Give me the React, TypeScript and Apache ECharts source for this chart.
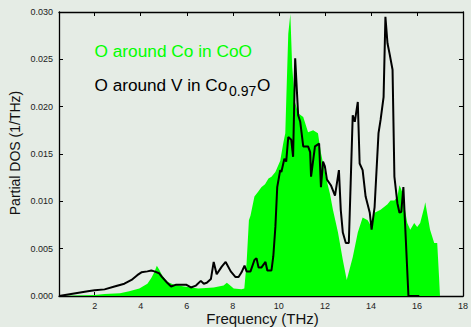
import React, { useEffect, useRef } from "react";
import * as echarts from "echarts";

// Green filled curve: O around Co in CoO
const freqCoO = [0.45, 2.0, 2.43, 3.1, 3.5, 3.94, 4.29, 4.46, 4.59, 4.70, 4.80, 4.93, 5.15, 5.45, 5.88, 6.5, 7.17, 7.6, 7.74, 7.85, 8.04, 8.38, 8.50, 8.60, 8.70, 8.77, 8.94, 9.1, 9.24, 9.4, 9.55, 9.68, 9.85, 10.06, 10.19, 10.28, 10.32, 10.41, 10.50, 10.58, 10.7, 10.84, 11.06, 11.27, 11.49, 11.70, 11.83, 12.05, 12.22, 12.35, 12.57, 12.78, 12.95, 13.21, 13.43, 13.64, 13.86, 14.0, 14.16, 14.42, 14.72, 14.85, 15.02, 15.15, 15.24, 15.28, 15.37, 15.50, 15.58, 15.71, 15.88, 16.01, 16.14, 16.32, 16.36, 16.44, 16.57, 16.75, 16.88, 16.96, 17.0];
const dosCoO = [0, 0.0001, 0.0002, 0.0003, 0.0005, 0.0008, 0.0013, 0.0019, 0.0025, 0.0032, 0.0028, 0.0022, 0.0015, 0.0012, 0.0010, 0.0008, 0.0009, 0.0011, 0.0014, 0.0012, 0.0008, 0.0007, 0.0008, 0.0035, 0.0080, 0.0085, 0.0105, 0.0110, 0.0115, 0.0118, 0.0124, 0.0126, 0.0131, 0.0143, 0.0161, 0.0172, 0.0205, 0.0277, 0.0298, 0.0242, 0.0205, 0.0193, 0.0189, 0.0173, 0.0175, 0.0172, 0.0151, 0.0125, 0.0108, 0.0091, 0.0067, 0.0038, 0.0017, 0.0041, 0.0067, 0.0083, 0.0080, 0.0074, 0.0088, 0.0091, 0.0097, 0.0101, 0.0101, 0.0105, 0.0117, 0.0115, 0.0109, 0.0088, 0.0077, 0.0070, 0.0077, 0.0073, 0.0077, 0.0094, 0.0099, 0.0088, 0.0070, 0.0056, 0.0056, 0.0020, 0];

// Black line: O around V in Co0.97O
const freqV = [0.45, 1.70, 2.0, 2.43, 2.86, 3.29, 3.60, 3.85, 4.03, 4.29, 4.46, 4.59, 4.80, 4.93, 5.15, 5.32, 5.54, 5.75, 5.97, 6.18, 6.40, 6.61, 6.74, 6.87, 7.05, 7.17, 7.30, 7.52, 7.69, 7.91, 8.12, 8.25, 8.38, 8.51, 8.60, 8.77, 8.94, 9.03, 9.12, 9.24, 9.42, 9.50, 9.68, 9.76, 9.85, 9.93, 10.06, 10.11, 10.24, 10.32, 10.41, 10.54, 10.62, 10.71, 10.84, 10.93, 11.06, 11.27, 11.36, 11.40, 11.57, 11.75, 11.83, 11.92, 12.00, 12.09, 12.26, 12.44, 12.61, 12.69, 12.78, 12.91, 13.04, 13.12, 13.21, 13.30, 13.43, 13.51, 13.64, 13.77, 13.95, 14.03, 14.16, 14.33, 14.42, 14.55, 14.63, 14.72, 14.81, 14.94, 15.02, 15.15, 15.24, 15.32, 15.41, 15.63, 16.10];
const dosV = [0, 0.0005, 0.0006, 0.0007, 0.0010, 0.0013, 0.0017, 0.0022, 0.0025, 0.0026, 0.0027, 0.0026, 0.0024, 0.0020, 0.0014, 0.0010, 0.0012, 0.0012, 0.0012, 0.0009, 0.0011, 0.0016, 0.0013, 0.0014, 0.0018, 0.0036, 0.0023, 0.0031, 0.0036, 0.0026, 0.0020, 0.0020, 0.0025, 0.0032, 0.0026, 0.0026, 0.0038, 0.0040, 0.0030, 0.0030, 0.0036, 0.0027, 0.0027, 0.0042, 0.0073, 0.0115, 0.0133, 0.0131, 0.0145, 0.0142, 0.0168, 0.0165, 0.0147, 0.0251, 0.0191, 0.0184, 0.0158, 0.0158, 0.0152, 0.0126, 0.0158, 0.0161, 0.0115, 0.0142, 0.0137, 0.0123, 0.0117, 0.0106, 0.0133, 0.0091, 0.0067, 0.0056, 0.0056, 0.0119, 0.0191, 0.0184, 0.0205, 0.0140, 0.0133, 0.0105, 0.0088, 0.0070, 0.0094, 0.0172, 0.0186, 0.0210, 0.0295, 0.0267, 0.0256, 0.0239, 0.0126, 0.0098, 0.0088, 0.0089, 0.0115, 0, 0];

const xTicks = [2, 4, 6, 8, 10, 12, 14, 16, 18];
const xMin = 0.45;
const xMax = 18;
const yMin = 0;
const yMax = 0.03;
const yStep = 0.005;

const legendCoO = "O around Co in CoO";
const legendVMain = "O around V in Co";
const legendVSub = "0.97";
const legendVEnd = "O";
const xTitle = "Frequency (THz)";
const yTitle = "Partial DOS (1/THz)";

const GREEN = "#00ff00";
const FONT = "'Liberation Sans', Arial, Helvetica, sans-serif";

export default function App() {
  const ref = useRef<HTMLDivElement>(null);
  useEffect(() => {
    if (!ref.current) return;
    const chart = echarts.init(ref.current, null, { renderer: "svg" });
    const tickCommon = { show: true, inside: true, length: 4, lineStyle: { color: "#000", width: 1 } };
    const lineCommon = { show: true, onZero: false, lineStyle: { color: "#000", width: 1.3 } };
    chart.setOption({
      animation: false,
      backgroundColor: "#e5ece5",
      textStyle: { fontFamily: FONT },
      grid: { left: 59, top: 12, right: 5, bottom: 31, containLabel: false },
      xAxis: [
        {
          type: "value", min: xMin, max: xMax, position: "bottom",
          axisLine: lineCommon,
          axisTick: { ...tickCommon, customValues: xTicks },
          axisLabel: { customValues: xTicks, color: "#222", fontSize: 9, margin: 5, fontFamily: FONT },
          splitLine: { show: false },
        },
        {
          type: "value", min: xMin, max: xMax, position: "top",
          axisLine: lineCommon,
          axisTick: { ...tickCommon, customValues: xTicks },
          axisLabel: { show: false, customValues: xTicks },
          splitLine: { show: false },
        },
      ],
      yAxis: [
        {
          type: "value", min: yMin, max: yMax, interval: yStep, position: "left",
          axisLine: lineCommon,
          axisTick: tickCommon,
          axisLabel: { color: "#222", fontSize: 9, margin: 6, fontFamily: FONT, formatter: (v: number) => v.toFixed(3) },
          splitLine: { show: false },
        },
        {
          type: "value", min: yMin, max: yMax, interval: yStep, position: "right",
          axisLine: lineCommon,
          axisTick: tickCommon,
          axisLabel: { show: false },
          splitLine: { show: false },
        },
      ],
      series: [
        {
          type: "line",
          data: freqCoO.map((f, i) => [f, dosCoO[i]]),
          showSymbol: false,
          lineStyle: { width: 0, color: GREEN },
          areaStyle: { color: GREEN, opacity: 1 },
          z: 1,
        },
        {
          type: "line",
          data: freqV.map((f, i) => [f, dosV[i]]),
          showSymbol: false,
          lineStyle: { width: 2, color: "#000" },
          z: 3,
        },
      ],
      graphic: [
        { type: "text", x: 94.5, y: 50.5, style: { text: legendCoO, fill: GREEN, fontSize: 17.3, fontFamily: FONT, verticalAlign: "middle", align: "left" } },
        { type: "text", x: 94.5, y: 84.8, style: { text: legendVMain, fill: "#000", fontSize: 17.2, fontFamily: FONT, verticalAlign: "middle", align: "left" } },
        { type: "text", x: 229, y: 91, style: { text: legendVSub, fill: "#000", fontSize: 14, fontFamily: FONT, verticalAlign: "middle", align: "left" } },
        { type: "text", x: 257, y: 84.8, style: { text: legendVEnd, fill: "#000", fontSize: 17.2, fontFamily: FONT, verticalAlign: "middle", align: "left" } },
        { type: "text", x: 262.5, y: 318, style: { text: xTitle, fill: "#111", fontSize: 15, fontFamily: FONT, verticalAlign: "middle", align: "center" } },
        { type: "text", x: 14.5, y: 153, rotation: Math.PI / 2, style: { text: yTitle, fill: "#111", fontSize: 14, fontFamily: FONT, verticalAlign: "middle", align: "center" } },
      ],
    });
    return () => chart.dispose();
  }, []);
  return <div ref={ref} style={{ width: 471, height: 327, position: "absolute", left: 0, top: 0 }} />;
}
